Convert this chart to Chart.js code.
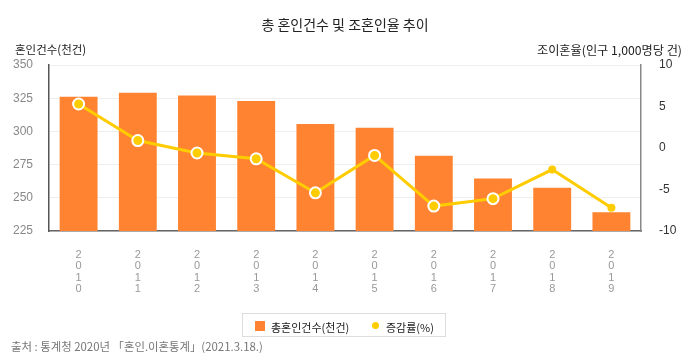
<!DOCTYPE html>
<html>
<head>
<meta charset="utf-8">
<script src="https://cdn.jsdelivr.net/npm/chart.js@4"></script>
<style>
  html, body { margin: 0; padding: 0; background: #fff; }
  body { width: 690px; height: 360px; position: relative; overflow: hidden; font-family: "Noto Sans CJK KR", "Noto Sans", sans-serif; }
  #c { position: absolute; left: 0; top: 0; }
  .t { position: absolute; white-space: nowrap; line-height: 1; }
  #title { left: 0; width: 690px; text-align: center; top: 17px; font-size: 14px; color: #222; }
  #ylt { left: 15px; top: 44px; font-size: 11.5px; color: #222; }
  #yrt { right: 8px; top: 44px; font-size: 12.2px; color: #222; }
  #legend { position: absolute; left: 242px; top: 313px; width: 204px; height: 24px; border: 1px solid #ddd; box-sizing: border-box; font-size: 11px; color: #222; }
  #legend .sq { position: absolute; left: 12px; top: 7px; width: 10px; height: 10px; background: #FF8330; }
  #legend .l1 { position: absolute; left: 28px; top: 5px; }
  #legend .dot { position: absolute; left: 129px; top: 8px; width: 7px; height: 7px; border-radius: 50%; background: #FFCC00; }
  #legend .l2 { position: absolute; left: 143px; top: 5px; }
  #src { left: 11px; top: 341px; font-size: 11.4px; color: #777; }
</style>
</head>
<body>
<canvas id="c" width="690" height="360"></canvas>
<div class="t" id="title">총 혼인건수 및 조혼인율 추이</div>
<div class="t" id="ylt">혼인건수(천건)</div>
<div class="t" id="yrt">조이혼율(인구 1,000명당 건)</div>
<div id="legend"><span class="sq"></span><span class="l1">총혼인건수(천건)</span><span class="dot"></span><span class="l2">증감률(%)</span></div>
<div class="t" id="src">출처 : 통계청 2020년 「혼인.이혼통계」(2021.3.18.)</div>
<script>
const years = ['2010', '2011', '2012', '2013', '2014', '2015', '2016', '2017', '2018', '2019'];
const marriages = [326.1, 329.1, 327.1, 322.8, 305.5, 302.8, 281.6, 264.5, 257.6, 239.2];
const changeRate = [5.3, 0.9, -0.6, -1.3, -5.4, -0.9, -7.0, -6.1, -2.6, -7.2];
const leftTicks = [225, 250, 275, 300, 325, 350];
const rightTicks = [-10, -5, 0, 5, 10];

const labels = years.map(y => y.split(''));

new Chart(document.getElementById('c'), {
  data: {
    labels: labels,
    datasets: [
      {
        type: 'line',
        label: '증감률(%)',
        data: changeRate,
        yAxisID: 'yR',
        borderColor: '#FFCC00',
        backgroundColor: '#FFCC00',
        borderWidth: 3,
        pointRadius: [5.5, 5.5, 5.5, 5.5, 5.5, 5.5, 5.5, 5.5, 4, 4],
        pointBorderWidth: [2, 2, 2, 2, 2, 2, 2, 2, 0, 0],
        pointBorderColor: '#fff',
        pointBackgroundColor: '#FFCC00',
        tension: 0,
        order: 1
      },
      {
        type: 'bar',
        label: '총혼인건수(천건)',
        data: marriages,
        yAxisID: 'yL',
        backgroundColor: '#FF8330',
        categoryPercentage: 0.8,
        barPercentage: 0.8,
        order: 2
      }
    ]
  },
  options: {
    responsive: false,
    animation: false,
    layout: { padding: { top: 65, left: 0, right: 0, bottom: 0 } },
    plugins: { legend: { display: false }, tooltip: { enabled: false }, title: { display: false } },
    scales: {
      x: {
        grid: { display: false, drawTicks: false },
        border: { display: true, color: '#666', width: 1.5 },
        ticks: {
          color: '#999',
          padding: 18,
          maxRotation: 0,
          autoSkip: false,
          font: { family: 'Liberation Sans, Arial, sans-serif', size: 11, lineHeight: 1.05 }
        },
        afterFit: s => { s.height = 129; }
      },
      yL: {
        position: 'left',
        min: 225, max: 350,
        afterBuildTicks: s => { s.ticks = leftTicks.map(v => ({ value: v })); },
        grid: { color: '#eeeeee', drawTicks: false },
        border: { display: true, color: '#555', width: 1.5 },
        ticks: { color: '#888', padding: 16, font: { family: 'Liberation Sans, Arial, sans-serif', size: 12 } },
        afterFit: s => { s.width = 49; }
      },
      yR: {
        position: 'right',
        min: -10, max: 10,
        afterBuildTicks: s => { s.ticks = rightTicks.map(v => ({ value: v })); },
        grid: { drawOnChartArea: false, drawTicks: false },
        border: { display: true, color: '#888', width: 1.5 },
        ticks: { color: '#333', padding: 18, font: { family: 'Liberation Sans, Arial, sans-serif', size: 12 } },
        afterFit: s => { s.width = 49; }
      }
    }
  }
});
</script>
</body>
</html>
